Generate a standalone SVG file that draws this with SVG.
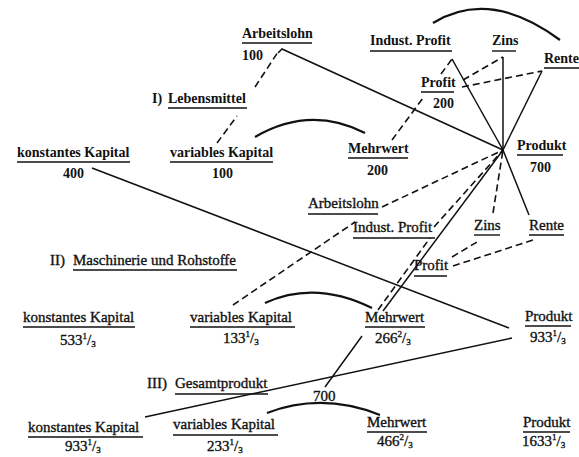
<svg xmlns="http://www.w3.org/2000/svg" width="579" height="457" viewBox="0 0 579 457">
<defs>
<style>
text{font-family:"Liberation Serif","DejaVu Serif",serif;fill:#111}
.b{font-size:14px;font-weight:bold}
.r{font-size:15px;stroke:#111;stroke-width:0.35}
.u{stroke:#111;stroke-width:1.4}
.s{stroke:#111;stroke-width:1.5;fill:none}
.d{stroke:#111;stroke-width:1.6;fill:none;stroke-dasharray:7 4}
.a{stroke:#111;stroke-width:2.2;fill:none}
.fr{font-size:9px}
</style>
</defs>
<rect width="579" height="457" fill="#fff"/>
<g id="connectors">
<!-- section I -->
<line class="d" x1="217" y1="143" x2="237" y2="116"/>
<line class="d" x1="255" y1="87" x2="278" y2="52"/>
<polyline class="s" points="278,53 282,49 503,150"/>
<line class="s" x1="452" y1="59" x2="503" y2="150"/>
<line class="s" x1="503" y1="57" x2="503" y2="150"/>
<line class="s" x1="542" y1="71" x2="503" y2="150"/>
<line class="d" x1="441" y1="74" x2="452" y2="59"/>
<line class="d" x1="463" y1="80" x2="503" y2="57"/>
<line class="d" x1="462" y1="87" x2="542" y2="71"/>
<line class="d" x1="392" y1="140" x2="423" y2="98"/>
<path class="a" d="M255,137 Q310,105 365,133"/>
<path class="a" d="M433,23 Q490,-12 560,40"/>
<line class="s" x1="92" y1="168" x2="509" y2="328"/>
<!-- section II -->
<line class="d" x1="233" y1="305" x2="355" y2="222"/>
<line class="d" x1="382" y1="207" x2="503" y2="150"/>
<line class="d" x1="434" y1="227" x2="503" y2="150"/>
<line class="d" x1="378" y1="310" x2="430" y2="238"/>
<line class="s" x1="383" y1="311" x2="503" y2="150"/>
<line class="d" x1="493" y1="213" x2="503" y2="150"/>
<line class="s" x1="529" y1="215" x2="503" y2="150"/>
<line class="d" x1="452" y1="257" x2="477" y2="242"/>
<line class="d" x1="453" y1="266" x2="533" y2="240"/>
<path class="a" d="M265,303 Q315,280 372,308"/>
<!-- section III -->
<line class="s" x1="145" y1="417" x2="512" y2="338"/>
<line class="s" x1="362" y1="336" x2="325" y2="387"/>
<path class="a" d="M267,413 Q322,392 380,415"/>
</g>
<!-- Section I -->
<g id="arbeitslohn1"><text class="b" x="242" y="38">Arbeitslohn</text><line class="u" x1="242" y1="43" x2="312" y2="43"/><text class="b" x="242" y="60">100</text></g>
<g id="lebensmittel"><text class="b" x="152" y="103">I)</text><text class="b" x="168" y="103">Lebensmittel</text><line class="u" x1="168" y1="108" x2="247" y2="108"/></g>
<g id="konstKap1"><text class="b" x="17" y="157">konstantes Kapital</text><line class="u" x1="17" y1="162" x2="130" y2="162"/><text class="b" x="63" y="178">400</text></g>
<g id="varKap1"><text class="b" x="170" y="157">variables Kapital</text><line class="u" x1="170" y1="162" x2="273" y2="162"/><text class="b" x="212" y="178">100</text></g>
<g id="mehrwert1"><text class="b" x="348" y="153">Mehrwert</text><line class="u" x1="348" y1="158" x2="408" y2="158"/><text class="b" x="367" y="175">200</text></g>
<g id="industProfit1"><text class="b" x="370" y="45">Indust. Profit</text><line class="u" x1="370" y1="51" x2="452" y2="51"/></g>
<g id="zins1"><text class="b" x="492" y="45">Zins</text><line class="u" x1="492" y1="51" x2="516" y2="51"/></g>
<g id="rente1"><text class="b" x="544" y="63">Rente</text><line class="u" x1="544" y1="68" x2="579" y2="68"/></g>
<g id="profit1"><text class="b" x="421" y="87">Profit</text><line class="u" x1="421" y1="92" x2="454" y2="92"/><text class="b" x="433" y="108">200</text></g>
<g id="produkt1"><text class="b" x="517" y="150">Produkt</text><line class="u" x1="517" y1="155" x2="563" y2="155"/><text class="b" x="530" y="172">700</text></g>
<!-- Section II -->
<g id="arbeitslohn2"><text class="r" x="308" y="208">Arbeitslohn</text><line class="u" x1="308" y1="214" x2="378" y2="214"/></g>
<g id="industProfit2"><text class="r" x="353" y="232">Indust. Profit</text><line class="u" x1="353" y1="238" x2="435" y2="238"/></g>
<g id="zins2"><text class="r" x="474" y="230">Zins</text><line class="u" x1="474" y1="235" x2="500" y2="235"/></g>
<g id="rente2"><text class="r" x="529" y="230">Rente</text><line class="u" x1="529" y1="235" x2="564" y2="235"/></g>
<g id="profit2"><text class="r" x="414" y="270">Profit</text><line class="u" x1="414" y1="276" x2="447" y2="276"/></g>
<g id="maschinerie"><text class="r" x="50" y="265">II)</text><text class="r" x="73" y="265">Maschinerie und Rohstoffe</text><line class="u" x1="73" y1="270" x2="237" y2="270"/></g>
<g id="konstKap2"><text class="r" x="23" y="322">konstantes Kapital</text><line class="u" x1="23" y1="327" x2="135" y2="327"/><text class="r" x="60" y="345">533<tspan class="fr" dy="-6">1</tspan><tspan dy="6">/</tspan><tspan class="fr" dy="2">3</tspan></text></g>
<g id="varKap2"><text class="r" x="190" y="322">variables Kapital</text><line class="u" x1="190" y1="327" x2="295" y2="327"/><text class="r" x="223" y="343">133<tspan class="fr" dy="-6">1</tspan><tspan dy="6">/</tspan><tspan class="fr" dy="2">3</tspan></text></g>
<g id="mehrwert2"><text class="r" x="365" y="322">Mehrwert</text><line class="u" x1="365" y1="327" x2="425" y2="327"/><text class="r" x="375" y="343">266<tspan class="fr" dy="-6">2</tspan><tspan dy="6">/</tspan><tspan class="fr" dy="2">3</tspan></text></g>
<g id="produkt2"><text class="r" x="525" y="321">Produkt</text><line class="u" x1="525" y1="326" x2="571" y2="326"/><text class="r" x="530" y="342">933<tspan class="fr" dy="-6">1</tspan><tspan dy="6">/</tspan><tspan class="fr" dy="2">3</tspan></text></g>
<!-- Section III -->
<g id="gesamtprodukt"><text class="r" x="147" y="388">III)</text><text class="r" x="175" y="388">Gesamtprodukt</text><line class="u" x1="175" y1="394" x2="268" y2="394"/></g>
<g id="sum700"><text class="r" x="313" y="401">700</text></g>
<g id="konstKap3"><text class="r" x="28" y="432">konstantes Kapital</text><line class="u" x1="28" y1="437" x2="143" y2="437"/><text class="r" x="65" y="451">933<tspan class="fr" dy="-6">1</tspan><tspan dy="6">/</tspan><tspan class="fr" dy="2">3</tspan></text></g>
<g id="varKap3"><text class="r" x="173" y="429">variables Kapital</text><line class="u" x1="173" y1="435" x2="278" y2="435"/><text class="r" x="207" y="451">233<tspan class="fr" dy="-6">1</tspan><tspan dy="6">/</tspan><tspan class="fr" dy="2">3</tspan></text></g>
<g id="mehrwert3"><text class="r" x="367" y="427">Mehrwert</text><line class="u" x1="367" y1="432" x2="427" y2="432"/><text class="r" x="377" y="446">466<tspan class="fr" dy="-6">2</tspan><tspan dy="6">/</tspan><tspan class="fr" dy="2">3</tspan></text></g>
<g id="produkt3"><text class="r" x="523" y="427">Produkt</text><line class="u" x1="523" y1="432" x2="570" y2="432"/><text class="r" x="522" y="446">1633<tspan class="fr" dy="-6">1</tspan><tspan dy="6">/</tspan><tspan class="fr" dy="2">3</tspan></text></g>
</svg>
